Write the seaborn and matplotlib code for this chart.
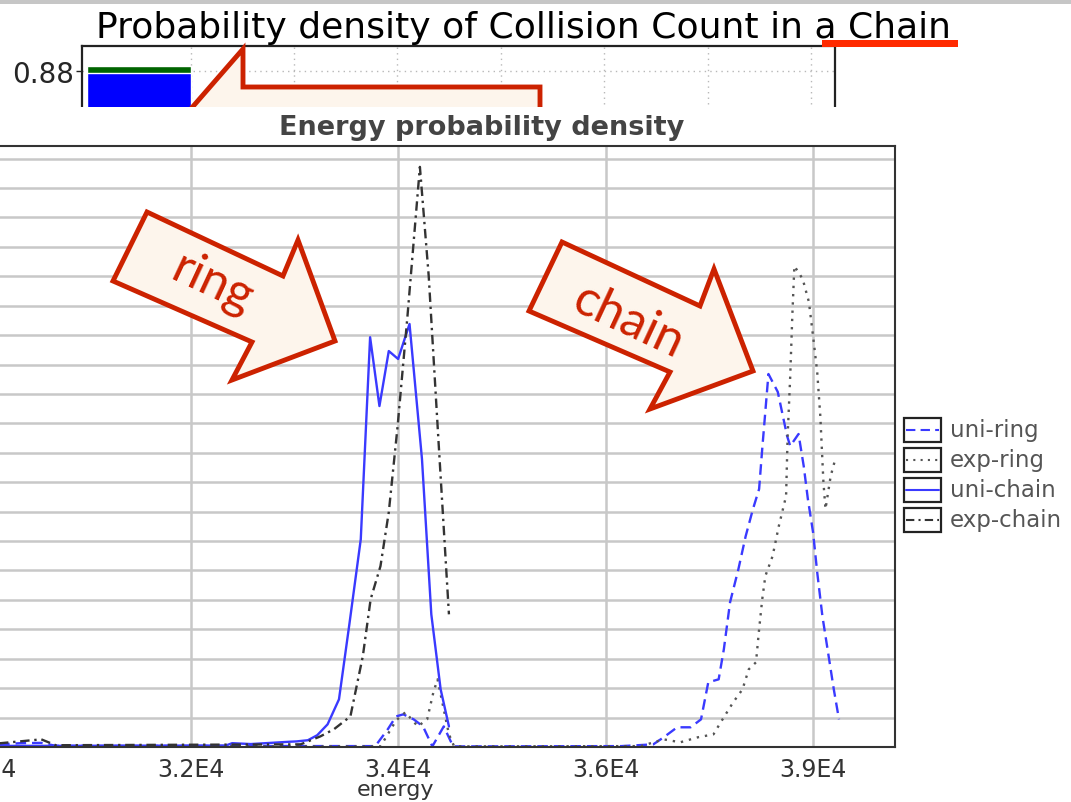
import pandas as pd
import matplotlib
matplotlib.use("Agg")
import matplotlib.pyplot as plt
from matplotlib.patches import Polygon, Rectangle
from matplotlib.lines import Line2D
import seaborn as sns

# ---- lower chart: energy probability density (one list per series) ----
uni_ring_energy = [28900, 30170, 30360, 30560, 30700, 33780, 33900, 33980, 34050,
                   34150, 34240, 34330, 34440, 34530, 36150, 36460, 36560, 36690,
                   36820, 36920, 36990, 37090, 37140, 37200, 37280, 37350, 37420,
                   37480, 37510, 37570, 37660, 37750, 37780, 37860, 37910, 37950,
                   38000, 38040, 38090, 38140, 38200, 38250]
uni_ring_density = [0.04, 0.09, 0.13, 0.14, 0.04, 0.03, 0.60, 1.04, 1.11,
                    0.94, 0.70, 0.02, 0.70, 0.02, 0.03, 0.09, 0.33, 0.67,
                    0.67, 0.94, 2.20, 2.30, 3.32, 4.92, 6.04, 7.16, 8.08,
                    8.77, 10.13, 12.68, 12.07, 10.57, 10.23, 10.64, 9.55, 8.43,
                    7.30, 5.94, 4.45, 3.32, 1.96, 0.94]

exp_ring_energy = [28900, 33830, 33980, 34070, 34190, 34280, 34340, 34380, 34440,
                   34490, 34540, 36340, 36560, 36720, 36890, 37040, 37110, 37230,
                   37320, 37380, 37450, 37480, 37510, 37540, 37610, 37670, 37740,
                   37755, 37780, 37800, 37820, 37900, 37960, 38000, 38040, 38070,
                   38100, 38120, 38170, 38220]
exp_ring_density = [0.03, 0.02, 0.90, 1.18, 0.70, 0.94, 1.86, 2.30, 1.28,
                    0.43, 0.02, 0.03, 0.26, 0.16, 0.33, 0.43, 0.84, 1.52,
                    1.96, 2.64, 2.88, 4.00, 5.02, 5.81, 6.49, 7.51, 8.53,
                    10.57, 12.61, 14.65, 16.35, 15.91, 15.13, 13.97, 12.75, 11.25,
                    9.00, 8.09, 9.21, 9.86]

uni_chain_energy = [28900, 32340, 32400, 32580, 32960, 33020, 33130, 33220, 33320,
                    33430, 33530, 33640, 33730, 33820, 33910, 34000, 34110, 34230,
                    34320, 34410, 34490]
uni_chain_density = [0.03, 0.05, 0.13, 0.10, 0.18, 0.19, 0.23, 0.40, 0.77,
                     1.62, 4.17, 7.06, 13.93, 11.59, 13.46, 13.19, 14.38, 9.79,
                     4.51, 1.96, 0.70]

exp_chain_energy = [28900, 30170, 30560, 30700, 33060, 33250, 33380, 33540, 33660,
                    33735, 33830, 33910, 33995, 34090, 34210, 34295, 34390, 34490]
exp_chain_density = [0.05, 0.13, 0.26, 0.06, 0.09, 0.36, 0.60, 1.04, 3.09,
                     5.02, 6.15, 7.98, 10.90, 14.64, 19.72, 16.01, 10.36, 4.51]

series_names = ["uni-ring", "exp-ring", "uni-chain", "exp-chain"]
energy_ticks = [30000, 32000, 34000, 36000, 38000]
energy_tick_labels = ["3.0E4", "3.2E4", "3.4E4", "3.6E4", "3.9E4"]

# ---- upper (partly hidden) chart: collision count ----
collision_count = [0]
exp_share = [0.905]
uni_share = [0.87]
count_ticks = [0.0, 0.22, 0.44, 0.66, 0.88]

W, H = 1071, 803
RED = "#cc2200"
CREAM = "#fdf5ec"


def fx(x):
    return x / W


def fy(y):
    return 1 - y / H


def box(l, t, r, b):
    return [fx(l), fy(b), fx(r) - fx(l), fy(t) - fy(b)]


def pts(seq):
    return [(fx(x), fy(y)) for x, y in seq]


sns.set_theme(style="white")
plt.rcParams["font.family"] = ["DejaVu Sans"]

fig = plt.figure(figsize=(W / 100, H / 100), dpi=100)
fig.patch.set_facecolor("white")

# top strip of the screenshot
fig.add_artist(Rectangle((0, fy(5)), 1, fy(0) - fy(5), transform=fig.transFigure,
                         facecolor="#c6c6c6", edgecolor="none", zorder=6))

fig.text(fx(523), fy(28), "Probability density of Collision Count in a Chain",
         ha="center", va="center", fontsize=26, color="black", zorder=1)
fig.add_artist(Rectangle((fx(822), fy(48)), fx(958) - fx(822), fy(41) - fy(48),
                         transform=fig.transFigure, facecolor="#ff2a00",
                         edgecolor="none", zorder=1))

ax_top = fig.add_axes(box(82, 47, 835, 255))
ax_top.set_zorder(0)
ax_top.bar(collision_count, exp_share, width=1, align="edge", color="#006400", zorder=2)
ax_top.bar(collision_count, uni_share, width=1, align="edge", color="#0000ff", zorder=3)
ax_top.set_xticks(range(1, 8))
ax_top.set_yticks(count_ticks)
ax_top.set_xlim(-0.05, 7.23)
ax_top.set_ylim(0, 1.0)
ax_top.set_yticklabels([f"{v:.2f}" for v in count_ticks], fontsize=20)
ax_top.set_xticklabels([])
ax_top.tick_params(axis="y", length=4, width=1, color="#222", pad=2, left=True)
ax_top.tick_params(axis="x", length=0)
ax_top.grid(True, color="#b8b8b8", lw=1, linestyle=(0, (1, 3)))
for s in ax_top.spines.values():
    s.set_color("#222")
    s.set_linewidth(1.6)

# callout from the upper chart
fig.add_artist(Polygon(pts([(189, 112), (243, 50), (243, 88), (540, 88), (540, 112)]),
                       closed=True, transform=fig.transFigure, facecolor=CREAM,
                       edgecolor=RED, lw=3.5, joinstyle="miter", zorder=1))

# white panel of the lower chart
fig.add_artist(Rectangle((0, 0), 1, fy(108), transform=fig.transFigure,
                         facecolor="white", edgecolor="none", zorder=2))

ax = fig.add_axes(box(-105, 147, 895, 748))
ax.set_zorder(3)
ax.set_facecolor("white")

df = pd.concat([
    pd.DataFrame({"energy": uni_ring_energy, "density": uni_ring_density, "series": "uni-ring"}),
    pd.DataFrame({"energy": exp_ring_energy, "density": exp_ring_density, "series": "exp-ring"}),
    pd.DataFrame({"energy": uni_chain_energy, "density": uni_chain_density, "series": "uni-chain"}),
    pd.DataFrame({"energy": exp_chain_energy, "density": exp_chain_density, "series": "exp-chain"}),
], ignore_index=True)

palette = {"uni-ring": "#3a3aff", "exp-ring": "#555555",
           "uni-chain": "#3a3aff", "exp-chain": "#333333"}
dashes = {"uni-ring": (4.5, 2.5), "exp-ring": (1, 2.5),
          "uni-chain": "", "exp-chain": (4, 2, 1, 2)}

sns.lineplot(data=df, x="energy", y="density", hue="series", style="series",
             hue_order=series_names, style_order=series_names,
             palette=palette, dashes=dashes, estimator=None, sort=False,
             lw=1.7, legend=False, ax=ax)

ax.set_xticks(energy_ticks)
ax.set_yticks(range(0, 21))
ax.set_xlim(29150, 38790)
ax.set_ylim(0, 20.43)
ax.set_xticklabels(energy_tick_labels, fontsize=17, color="#333")
ax.set_yticklabels([])
ax.tick_params(axis="both", length=0, pad=7)
ax.grid(True, color="#c8c8c8", lw=1.8)
ax.set_axisbelow(True)
ax.set_xlabel("energy", fontsize=16, color="#333", labelpad=-1)
ax.set_ylabel("")
for s in ax.spines.values():
    s.set_color("#333")
    s.set_linewidth(1.5)

fig.text(fx(482), fy(128), "Energy probability density", ha="center", va="center",
         fontsize=19.5, fontweight="bold", color="#444", zorder=5)

# legend drawn as boxes with line samples
leg_y = [431, 461, 491, 521]
for name, y in zip(series_names, leg_y):
    fig.add_artist(Rectangle((fx(904), fy(y + 12)), fx(941) - fx(904), fy(y - 12) - fy(y + 12),
                             transform=fig.transFigure, facecolor="white",
                             edgecolor="#222", lw=1.6, zorder=5))
    d = dashes[name]
    ls = "-" if d == "" else (0, d)
    fig.add_artist(Line2D([fx(906), fx(939)], [fy(y), fy(y)], transform=fig.transFigure,
                          color=palette[name], lw=1.5, linestyle=ls, zorder=6))
    fig.text(fx(950), fy(y), name, ha="left", va="center", fontsize=16.5,
             color="#555", zorder=6)

# block arrows
ring_arrow = [(147, 213), (283, 277), (298, 241), (335, 342), (232, 381), (252, 343), (113, 282)]
chain_arrow = [(562, 243), (700, 307), (714, 270), (753, 372), (650, 410), (670, 373), (529, 312)]
for shape in (ring_arrow, chain_arrow):
    fig.add_artist(Polygon(pts(shape), closed=True, transform=fig.transFigure,
                           facecolor=CREAM, edgecolor=RED, lw=3.5,
                           joinstyle="miter", zorder=7))
fig.text(fx(213), fy(284), "ring", ha="center", va="center", rotation=-25,
         rotation_mode="anchor", fontsize=36, color=RED, family="Lato", zorder=8)
fig.text(fx(629), fy(322), "chain", ha="center", va="center", rotation=-25,
         rotation_mode="anchor", fontsize=36, color=RED, family="Lato", zorder=8)

fig.savefig("out.png", dpi=100)
